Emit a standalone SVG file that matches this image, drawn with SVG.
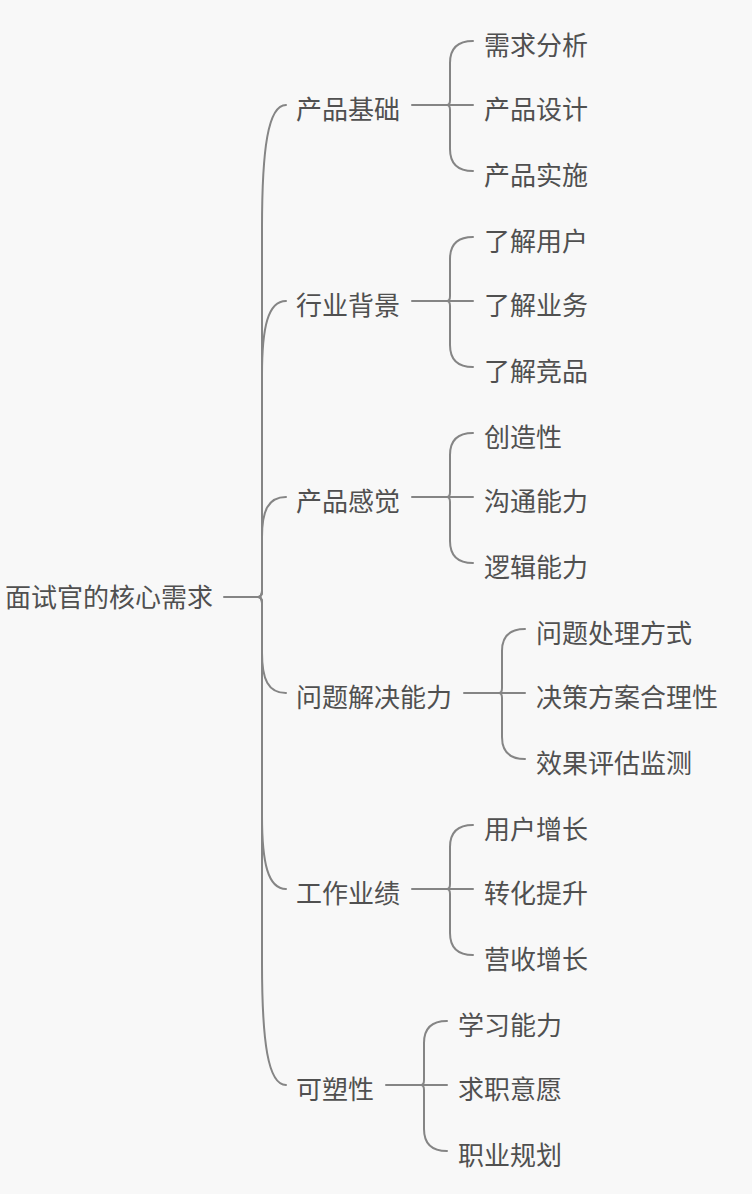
<svg xmlns="http://www.w3.org/2000/svg" width="752" height="1194" viewBox="0 0 752 1194">
<style>
text{font-family:"Noto Sans CJK SC","Noto Sans",sans-serif;font-size:26px;fill:#505050}
.c{fill:none;stroke:#858585;stroke-width:2;stroke-linecap:round}
</style>
<rect width="752" height="1194" fill="#f8f8f8"/>
<g id="connectors">
<path class="c" d="M224 597L258 597"/>
<path class="c" d="M258 597Q262 597 262 591L262 228C262 149 268 105 286 105"/>
<path class="c" d="M258 597Q262 597 262 591L262 375C262 327 268 301 286 301"/>
<path class="c" d="M258 597Q262 597 262 591L262 537C262 511 268 497 286 497"/>
<path class="c" d="M258 597Q262 597 262 603L262 653C262 679 268 693 286 693"/>
<path class="c" d="M258 597Q262 597 262 603L262 816C262 863 268 889 286 889"/>
<path class="c" d="M258 597Q262 597 262 603L262 963C262 1042 268 1085 286 1085"/>
<path class="c" d="M412 105L473 105"/>
<path class="c" d="M447 105Q450 105 450 100L450 63C450 49 457 41 473 41"/>
<path class="c" d="M447 105Q450 105 450 110L450 149C450 163 457 171 473 171"/>
<path class="c" d="M412 301L473 301"/>
<path class="c" d="M447 301Q450 301 450 296L450 259C450 245 457 237 473 237"/>
<path class="c" d="M447 301Q450 301 450 306L450 345C450 359 457 367 473 367"/>
<path class="c" d="M412 497L473 497"/>
<path class="c" d="M447 497Q450 497 450 492L450 455C450 441 457 433 473 433"/>
<path class="c" d="M447 497Q450 497 450 502L450 541C450 555 457 563 473 563"/>
<path class="c" d="M464 693L525 693"/>
<path class="c" d="M499 693Q502 693 502 688L502 651C502 637 509 629 525 629"/>
<path class="c" d="M499 693Q502 693 502 698L502 737C502 751 509 759 525 759"/>
<path class="c" d="M412 889L473 889"/>
<path class="c" d="M447 889Q450 889 450 884L450 847C450 833 457 825 473 825"/>
<path class="c" d="M447 889Q450 889 450 894L450 933C450 947 457 955 473 955"/>
<path class="c" d="M386 1085L447 1085"/>
<path class="c" d="M421 1085Q424 1085 424 1080L424 1043C424 1029 431 1021 447 1021"/>
<path class="c" d="M421 1085Q424 1085 424 1090L424 1129C424 1143 431 1151 447 1151"/>
</g>
<g id="root"><text x="5" y="607">面试官的核心需求</text></g>
<g id="n1"><text x="296" y="118.5">产品基础</text></g>
<g id="n1a"><text x="484" y="54.5">需求分析</text></g>
<g id="n1b"><text x="484" y="118.5">产品设计</text></g>
<g id="n1c"><text x="484" y="184.5">产品实施</text></g>
<g id="n2"><text x="296" y="314.5">行业背景</text></g>
<g id="n2a"><text x="484" y="250.5">了解用户</text></g>
<g id="n2b"><text x="484" y="314.5">了解业务</text></g>
<g id="n2c"><text x="484" y="380.5">了解竞品</text></g>
<g id="n3"><text x="296" y="510.5">产品感觉</text></g>
<g id="n3a"><text x="484" y="446.5">创造性</text></g>
<g id="n3b"><text x="484" y="510.5">沟通能力</text></g>
<g id="n3c"><text x="484" y="576.5">逻辑能力</text></g>
<g id="n4"><text x="296" y="706.5">问题解决能力</text></g>
<g id="n4a"><text x="536" y="642.5">问题处理方式</text></g>
<g id="n4b"><text x="536" y="706.5">决策方案合理性</text></g>
<g id="n4c"><text x="536" y="772.5">效果评估监测</text></g>
<g id="n5"><text x="296" y="902.5">工作业绩</text></g>
<g id="n5a"><text x="484" y="838.5">用户增长</text></g>
<g id="n5b"><text x="484" y="902.5">转化提升</text></g>
<g id="n5c"><text x="484" y="968.5">营收增长</text></g>
<g id="n6"><text x="296" y="1098.5">可塑性</text></g>
<g id="n6a"><text x="458" y="1034.5">学习能力</text></g>
<g id="n6b"><text x="458" y="1098.5">求职意愿</text></g>
<g id="n6c"><text x="458" y="1164.5">职业规划</text></g>
</svg>
